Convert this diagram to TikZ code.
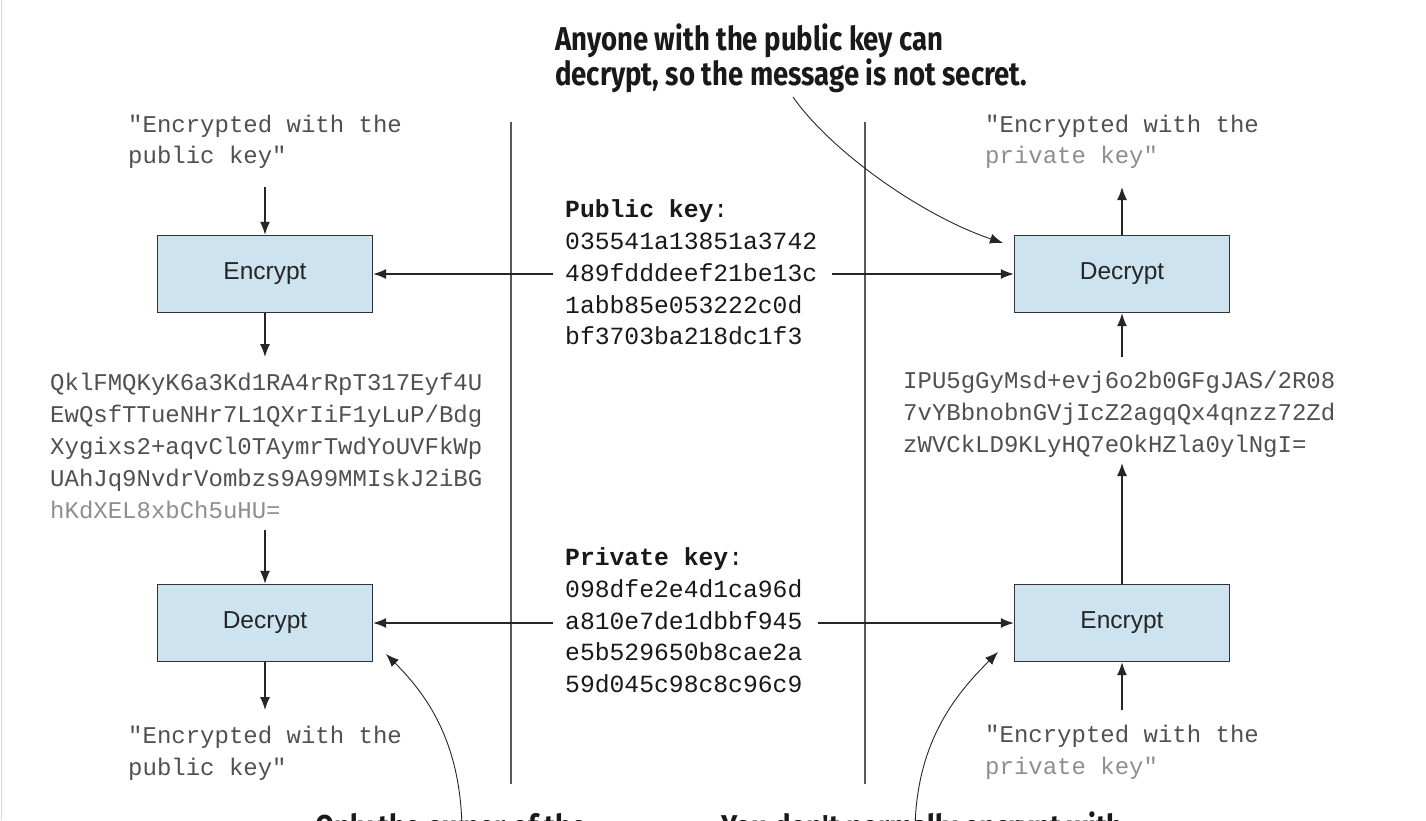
\documentclass[tikz,border=0pt]{standalone}
\usepackage{fontspec}
\setmainfont{Liberation Sans}
\setmonofont{Liberation Mono}
\newfontfamily\callf[FakeStretch=0.835]{Fira Sans}
\usetikzlibrary{arrows.meta}
\definecolor{boxblue}{HTML}{CDE3F0}
\definecolor{qgray}{HTML}{505050}
\definecolor{lgray}{HTML}{8E8E8E}
\begin{document}
\begin{tikzpicture}[x=1pt,y=-1pt,
  box/.style={draw=black!80, line width=1.3pt, fill=boxblue, minimum width=215pt, minimum height=77pt, inner sep=0, font=\fontsize{24.5}{28}\selectfont, text=black!85},
  mono/.style={inner sep=0, anchor=mid west, yshift=-5pt, font=\ttfamily\fontsize{24}{30}\selectfont, text=qgray},
  hex/.style={inner sep=0, anchor=mid west, yshift=-5pt, font=\ttfamily\fontsize{24.7}{30}\selectfont, text=black!90},
  flow/.style={draw=black!85, line width=1.4pt, -{Latex[length=13pt,width=10pt]}},
  divider/.style={draw=black!65, line width=1.4pt},
  callout/.style={font=\callf\bfseries\fontsize{33}{35}\selectfont, inner sep=0, anchor=base west, text=black!90},
  pointer/.style={draw=black!85, line width=0.9pt, -{Latex[length=13pt,width=10pt]}}
]
\path[use as bounding box, fill=white] (0,0) rectangle (1426,820);
\clip (0,0) rectangle (1426,820);
\draw[black!15, line width=1pt] (1.5,0) -- (1.5,820);

% dividers
\coordinate (d1t) at (511,122); \coordinate (d1b) at (511,784);
\coordinate (d2t) at (865,122); \coordinate (d2b) at (865,784);
\draw[divider] (d1t) -- (d1b);
\draw[divider] (d2t) -- (d2b);

% boxes
\node[box] (enc1) at (265,274) {Encrypt};
\node[box] (dec1) at (265,623) {Decrypt};
\node[box] (dec2) at (1122,274) {Decrypt};
\node[box] (enc2) at (1122,623) {Encrypt};

% quoted texts
\node[mono] (tl1) at (128,125) {"Encrypted with the};
\node[mono] (tl2) at (128,156) {public key"};
\node[mono] (tr1) at (985,125) {"Encrypted with the};
\node[mono, text=lgray] (tr2) at (985,156) {private key"};
\node[mono] (bl1) at (128,736) {"Encrypted with the};
\node[mono] (bl2) at (128,768) {public key"};
\node[mono] (br1) at (985,735) {"Encrypted with the};
\node[mono, text=lgray] (br2) at (985,767) {private key"};

% ciphertexts
\node[mono] (cl1) at (50,383) {QklFMQKyK6a3Kd1RA4rRpT317Eyf4U};
\node[mono] (cl2) at (50,415) {EwQsfTTueNHr7L1QXrIiF1yLuP/Bdg};
\node[mono] (cl3) at (50,447) {Xygixs2+aqvCl0TAymrTwdYoUVFkWp};
\node[mono] (cl4) at (50,479) {UAhJq9NvdrVombzs9A99MMIskJ2iBG};
\node[mono, text=lgray] (cl5) at (50,511) {hKdXEL8xbCh5uHU=};
\node[mono] (cr1) at (903,381) {IPU5gGyMsd+evj6o2b0GFgJAS/2R08};
\node[mono] (cr2) at (903,413) {7vYBbnobnGVjIcZ2agqQx4qnzz72Zd};
\node[mono] (cr3) at (903,445) {zWVCkLD9KLyHQ7eOkHZla0ylNgI=};

% keys
\node[hex] (pk0) at (565,210) {\textbf{Public key}:};
\node[hex] (pk1) at (565,242) {035541a13851a3742};
\node[hex] (pk2) at (565,274) {489fdddeef21be13c};
\node[hex] (pk3) at (565,306) {1abb85e053222c0d};
\node[hex] (pk4) at (565,337) {bf3703ba218dc1f3};
\node[hex] (sk0) at (565,558) {\textbf{Private key}:};
\node[hex] (sk1) at (565,590) {098dfe2e4d1ca96d};
\node[hex] (sk2) at (565,622) {a810e7de1dbbf945};
\node[hex] (sk3) at (565,653) {e5b529650b8cae2a};
\node[hex] (sk4) at (565,685) {59d045c98c8c96c9};

% flow arrows
\coordinate (a1) at (265,187);
\coordinate (a2) at (265,357);
\coordinate (a3) at (265,530);
\coordinate (a4) at (265,710);
\coordinate (b1) at (1122,187);
\coordinate (b2) at (1122,357);
\coordinate (b3) at (1122,463);
\coordinate (b4) at (1122,710);
\draw[flow] (a1) -- (enc1.north);
\draw[flow] (enc1.south) -- (a2);
\draw[flow] (a3) -- (dec1.north);
\draw[flow] (dec1.south) -- (a4);
\draw[flow] (b4) -- (enc2.south);
\draw[flow] (enc2.north) -- (b3);
\draw[flow] (b2) -- (dec2.south);
\draw[flow] (dec2.north) -- (b1);

\coordinate (h1) at (553,274);
\coordinate (h2) at (832,274);
\coordinate (h3) at (553,623);
\coordinate (h4) at (818,623);
\draw[flow] (h1) -- (enc1.east);
\draw[flow] (h2) -- (dec2.west);
\draw[flow] (h3) -- (dec1.east);
\draw[flow] (h4) -- (enc2.west);

% callouts
\node[callout] (co1) at (555,50) {Anyone with the public key can};
\node[callout] (co2) at (555,85) {decrypt, so the message is not secret.};
\node[callout] (co3) at (315,838) {Only the owner of the};
\node[callout] (co4) at (721,838) {You don't normally encrypt with};

\coordinate (p1s) at (793,97);
\coordinate (p1e) at (1003,243);
\coordinate (p2s) at (462,830);
\coordinate (p2e) at (386,654);
\coordinate (p3s) at (915,830);
\coordinate (p3e) at (998,652);
\draw[pointer] (p1s) .. controls (830,150) and (920,215) .. (p1e);
\draw[pointer] (p2s) .. controls (461,740) and (425,693) .. (p2e);
\draw[pointer] (p3s) .. controls (916,740) and (958,692) .. (p3e);
\end{tikzpicture}
\end{document}
